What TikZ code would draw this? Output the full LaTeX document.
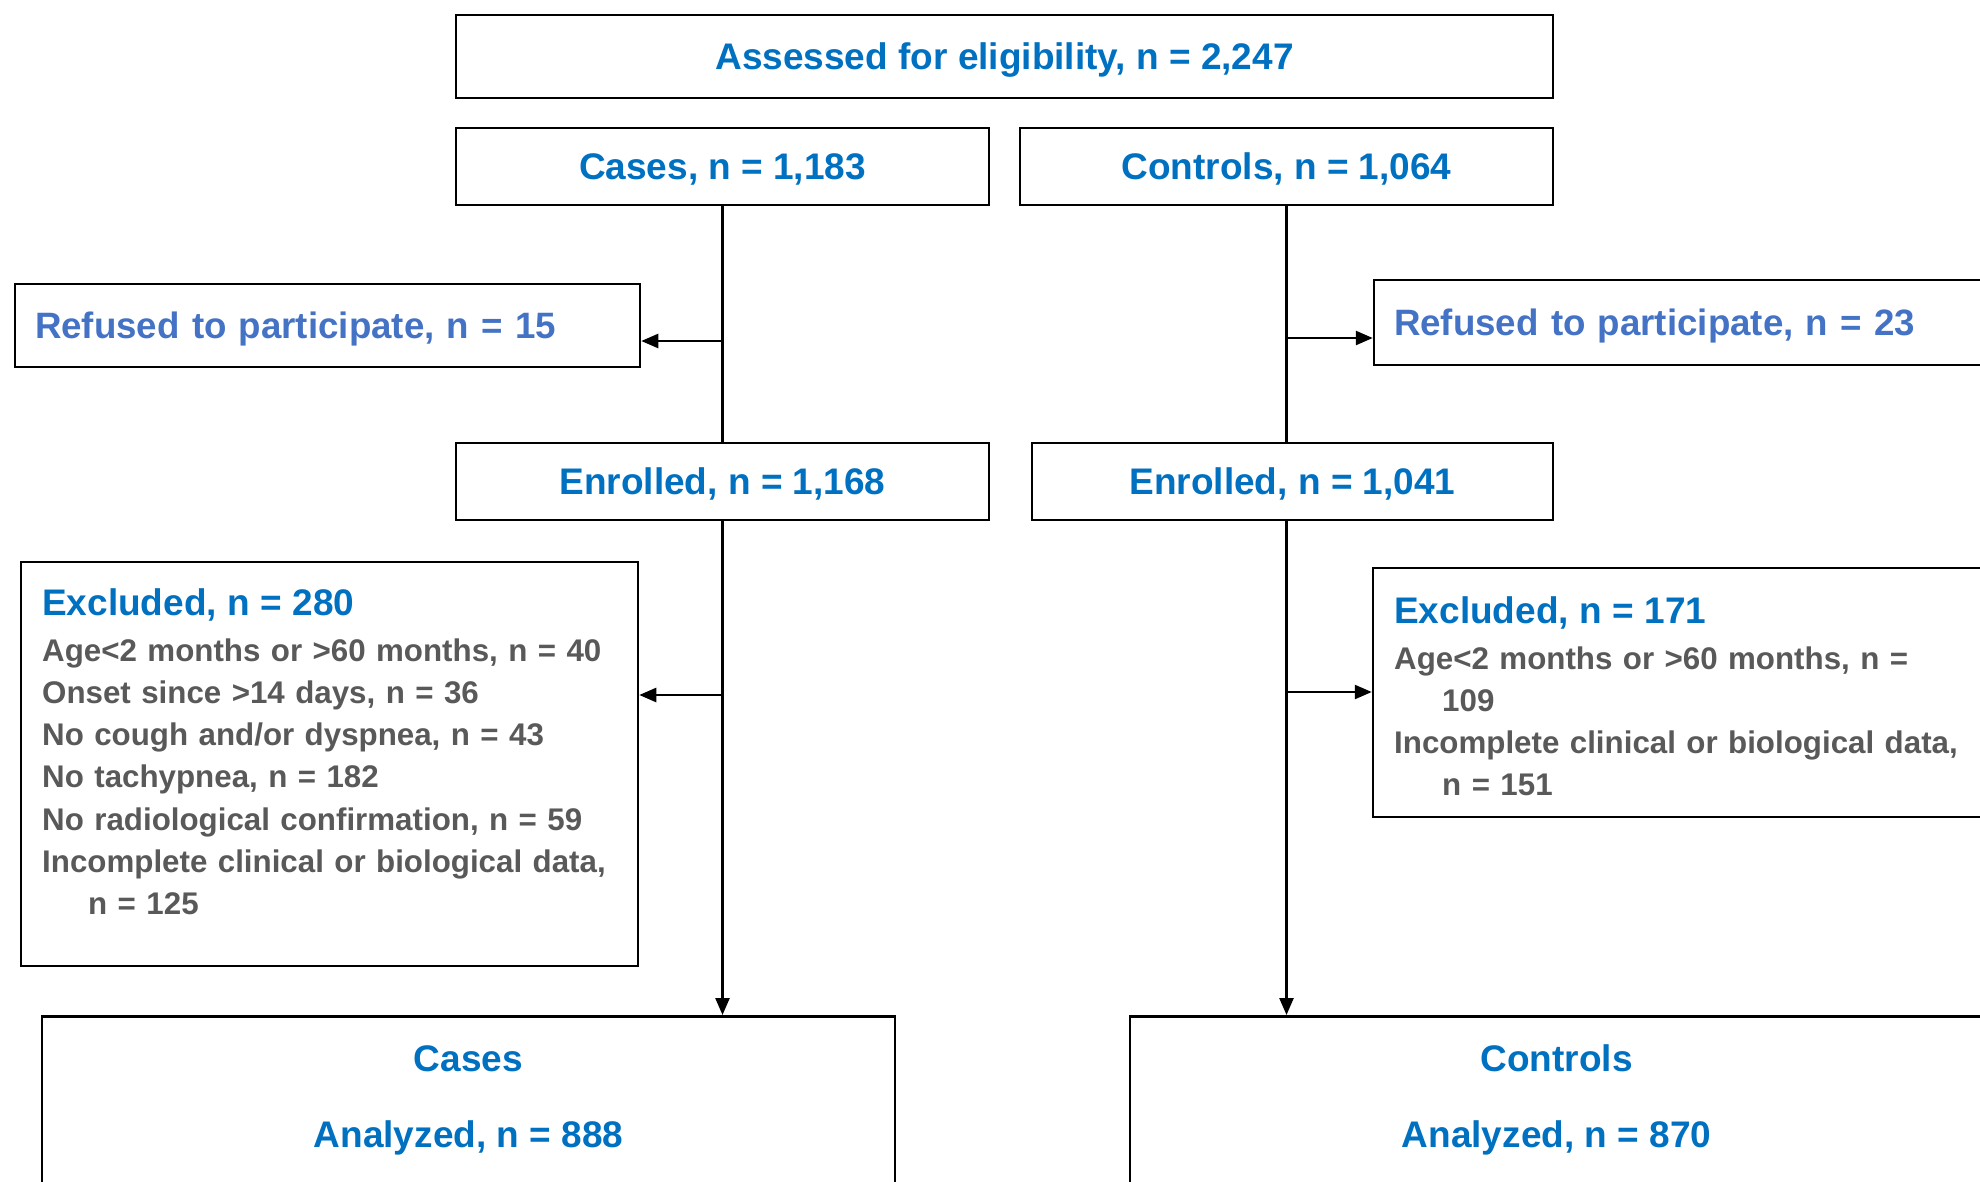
\documentclass[tikz,border=0pt]{standalone}
\usepackage{fontspec}
\setmainfont{Liberation Sans}
\usetikzlibrary{arrows.meta}
\definecolor{darkblue}{HTML}{0070C0}
\definecolor{lightblue}{HTML}{4472C4}
\definecolor{greytext}{HTML}{595959}
\tikzstyle{box} = [rectangle, draw=black, line width=2.5pt, inner sep=0pt, text depth=0pt, text=darkblue, font=\bfseries\fontsize{37}{44}\selectfont]
\tikzstyle{refused} = [box, text=lightblue, align=left, text width=585pt, inner xsep=20pt, minimum width=625pt, font=\bfseries\fontsize{36.7}{44}\selectfont]
\tikzstyle{reason} = [anchor=north west, inner sep=0pt, text width=590pt, align=left, text=greytext, font=\bfseries\fontsize{31.3}{42.3}\selectfont]
\tikzstyle{heading} = [anchor=base, inner sep=0pt, text=darkblue, font=\bfseries\fontsize{37}{44}\selectfont]
\tikzstyle{line} = [line width=2.5pt]
\tikzstyle{arrow} = [line width=2.5pt, -{Triangle[length=17pt,width=14pt]}]

\begin{document}
\begin{tikzpicture}[x=1pt, y=-1pt]
    \clip (0,0) rectangle (1980,1181);

    \node (assessed) [box, minimum width=1097pt, minimum height=83pt] at (1004.5,56.5) {Assessed for eligibility, n = 2,247};

    \node (cases)    [box, minimum width=533pt, minimum height=77pt] at (722.5,166.5) {Cases, n = 1,183};
    \node (controls) [box, minimum width=533pt, minimum height=77pt] at (1286.5,166.5) {Controls, n = 1,064};

    \node (ref_cases)    [refused, minimum height=83pt] at (327.5,325.5) {Refused to participate, n = 15};
    \node (ref_controls) [refused, minimum height=85pt] at (1686.5,322.5) {Refused to participate, n = 23};

    \node (enr_cases)    [box, minimum width=533pt, minimum height=77pt] at (722.5,481.5) {Enrolled, n = 1,168};
    \node (enr_controls) [box, minimum width=521pt, minimum height=77pt] at (1292.5,481.5) {Enrolled, n = 1,041};

    \node (exc_cases)    [box, minimum width=617pt, minimum height=404pt] at (329.5,764) {};
    \node (exc_controls) [box, minimum width=627pt, minimum height=249pt] at (1686.5,692.5) {};

    \node (exc_cases_txt) [reason] at (42,588)
        {{\color{darkblue}\fontsize{37}{44}\selectfont Excluded, n = 280}\\[3.7pt]
         Age<2 months or >60 months, n = 40\\
         Onset since >14 days, n = 36\\
         No cough and/or dyspnea, n = 43\\
         No tachypnea, n = 182\\
         No radiological confirmation, n = 59\\
         Incomplete clinical or biological data,\\
         \hspace*{46pt}n = 125};
    \node (exc_controls_txt) [reason] at (1394,596)
        {{\color{darkblue}\fontsize{37}{44}\selectfont Excluded, n = 171}\\[3.7pt]
         Age<2 months or >60 months, n =\\
         \hspace*{48pt}109\\
         Incomplete clinical or biological data,\\
         \hspace*{48pt}n = 151};

    \node (ana_cases)    [box, anchor=north, minimum width=853pt, minimum height=300pt] at (468.5,1015) {};
    \node (ana_controls) [box, anchor=north, minimum width=853pt, minimum height=300pt] at (1556.5,1015) {};

    \node (ana_cases_grp)    [heading] at (468.5,1071) {Cases};
    \node (ana_cases_n)      [heading] at (468.5,1147) {Analyzed, n = 888};
    \node (ana_controls_grp) [heading] at (1556.5,1071) {Controls};
    \node (ana_controls_n)   [heading] at (1556.5,1147) {Analyzed, n = 870};

    \coordinate (to_ref_cases)    at (722.5,341);
    \coordinate (to_ref_controls) at (1286.5,338);
    \coordinate (to_exc_cases)    at (722.5,695);
    \coordinate (to_exc_controls) at (1286.5,692);

\draw [line] (cases.south) -- (enr_cases.north);
\draw [arrow] (enr_cases.south) -- (enr_cases.south |- ana_cases.north);
\draw [line] (controls.south) -- (controls.south |- enr_controls.north);
\draw [arrow] (controls.south |- enr_controls.south) -- (controls.south |- ana_controls.north);

\draw [arrow] (to_ref_cases) -- (to_ref_cases -| ref_cases.east);
\draw [arrow] (to_ref_controls) -- (to_ref_controls -| ref_controls.west);
\draw [arrow] (to_exc_cases) -- (to_exc_cases -| exc_cases.east);
\draw [arrow] (to_exc_controls) -- (to_exc_controls -| exc_controls.west);

\end{tikzpicture}
\end{document}
